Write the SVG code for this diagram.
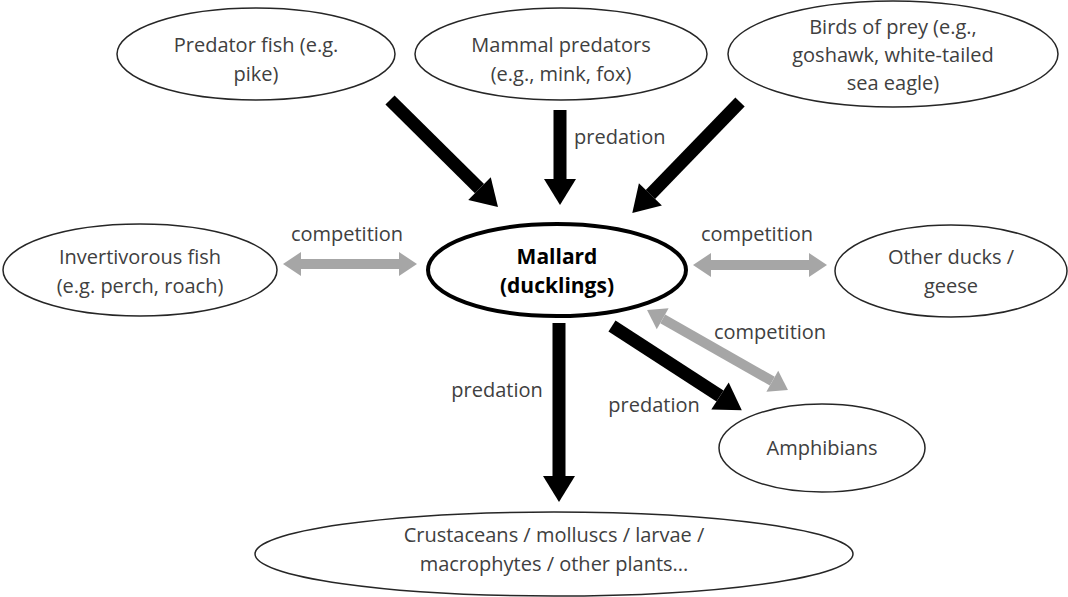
<svg xmlns="http://www.w3.org/2000/svg" width="1068" height="597" viewBox="0 0 1068 597">
<style>
.node{fill:#fff;stroke:#262626;stroke-width:1.5}
.main{fill:#fff;stroke:#000;stroke-width:4}
.t{font-family:"Open Sans","Liberation Sans",Arial,sans-serif;font-size:20px;fill:#404040;text-anchor:middle}
.tb{font-family:"Open Sans","Liberation Sans",Arial,sans-serif;font-size:21px;font-weight:bold;fill:#000;text-anchor:middle}
.lbl{font-family:"Open Sans","Liberation Sans",Arial,sans-serif;font-size:20px;fill:#404040}
.blk{stroke:#000;stroke-width:13;fill:none;marker-end:url(#hb)}
.gry{stroke:#a6a6a6;stroke-width:10;fill:none;marker-start:url(#hg);marker-end:url(#hg)}
</style>
<defs>
<marker id="hb" markerUnits="userSpaceOnUse" markerWidth="28" markerHeight="34" refX="0" refY="16" orient="auto" overflow="visible">
<path d="M0,0 L26,16 L0,32 z" fill="#000"/>
</marker>
<marker id="hg" markerUnits="userSpaceOnUse" markerWidth="20" markerHeight="26" refX="0" refY="12" orient="auto-start-reverse" overflow="visible">
<path d="M0,0 L18,12 L0,24 z" fill="#a6a6a6"/>
</marker>
</defs>
<g id="connectors">
<line class="blk" x1="390" y1="100" x2="479.5" y2="188.7"/>
<line class="blk" x1="560" y1="110" x2="560" y2="179"/>
<line class="blk" x1="740" y1="102" x2="650.4" y2="194.4"/>
<line class="blk" x1="612" y1="326" x2="720" y2="396"/>
<line class="blk" x1="559" y1="323" x2="559" y2="476"/>
<line class="gry" x1="301" y1="264" x2="399" y2="264"/>
<line class="gry" x1="711" y1="265" x2="809" y2="265"/>
<line class="gry" x1="662.7" y1="318.8" x2="772.3" y2="381.2"/>
<text class="lbl" x="574" y="144">predation</text>
<text class="t" x="347" y="241">competition</text>
<text class="t" x="757" y="241">competition</text>
<text class="t" x="770" y="339">competition</text>
<text class="t" x="497" y="397">predation</text>
<text class="t" x="654" y="412">predation</text>
</g>
<g id="predator-fish">
<ellipse class="node" cx="256" cy="54" rx="139" ry="46"/>
<text class="t" x="256" y="52">Predator fish (e.g.</text>
<text class="t" x="256" y="81">pike)</text>
</g>
<g id="mammal-predators">
<ellipse class="node" cx="561" cy="54" rx="146" ry="46"/>
<text class="t" x="561" y="52">Mammal predators</text>
<text class="t" x="561" y="81">(e.g., mink, fox)</text>
</g>
<g id="birds-of-prey">
<ellipse class="node" cx="893" cy="54" rx="165" ry="53"/>
<text class="t" x="893" y="34">Birds of prey (e.g.,</text>
<text class="t" x="893" y="62">goshawk, white-tailed</text>
<text class="t" x="893" y="90">sea eagle)</text>
</g>
<g id="invertivorous-fish">
<ellipse class="node" cx="140" cy="270" rx="137" ry="46"/>
<text class="t" x="140" y="264">Invertivorous fish</text>
<text class="t" x="140" y="293">(e.g. perch, roach)</text>
</g>
<g id="mallard">
<ellipse class="main" cx="557" cy="270" rx="129" ry="46"/>
<text class="tb" x="557" y="264">Mallard</text>
<text class="tb" x="557" y="293">(ducklings)</text>
</g>
<g id="other-ducks">
<ellipse class="node" cx="951" cy="271" rx="116" ry="46"/>
<text class="t" x="951" y="264">Other ducks /</text>
<text class="t" x="951" y="293">geese</text>
</g>
<g id="amphibians">
<ellipse class="node" cx="822" cy="448" rx="103" ry="44"/>
<text class="t" x="822" y="455">Amphibians</text>
</g>
<g id="crustaceans">
<ellipse class="node" cx="554" cy="554" rx="299" ry="42"/>
<text class="t" x="554" y="542">Crustaceans / molluscs / larvae /</text>
<text class="t" x="554" y="571">macrophytes / other plants...</text>
</g>
</svg>
